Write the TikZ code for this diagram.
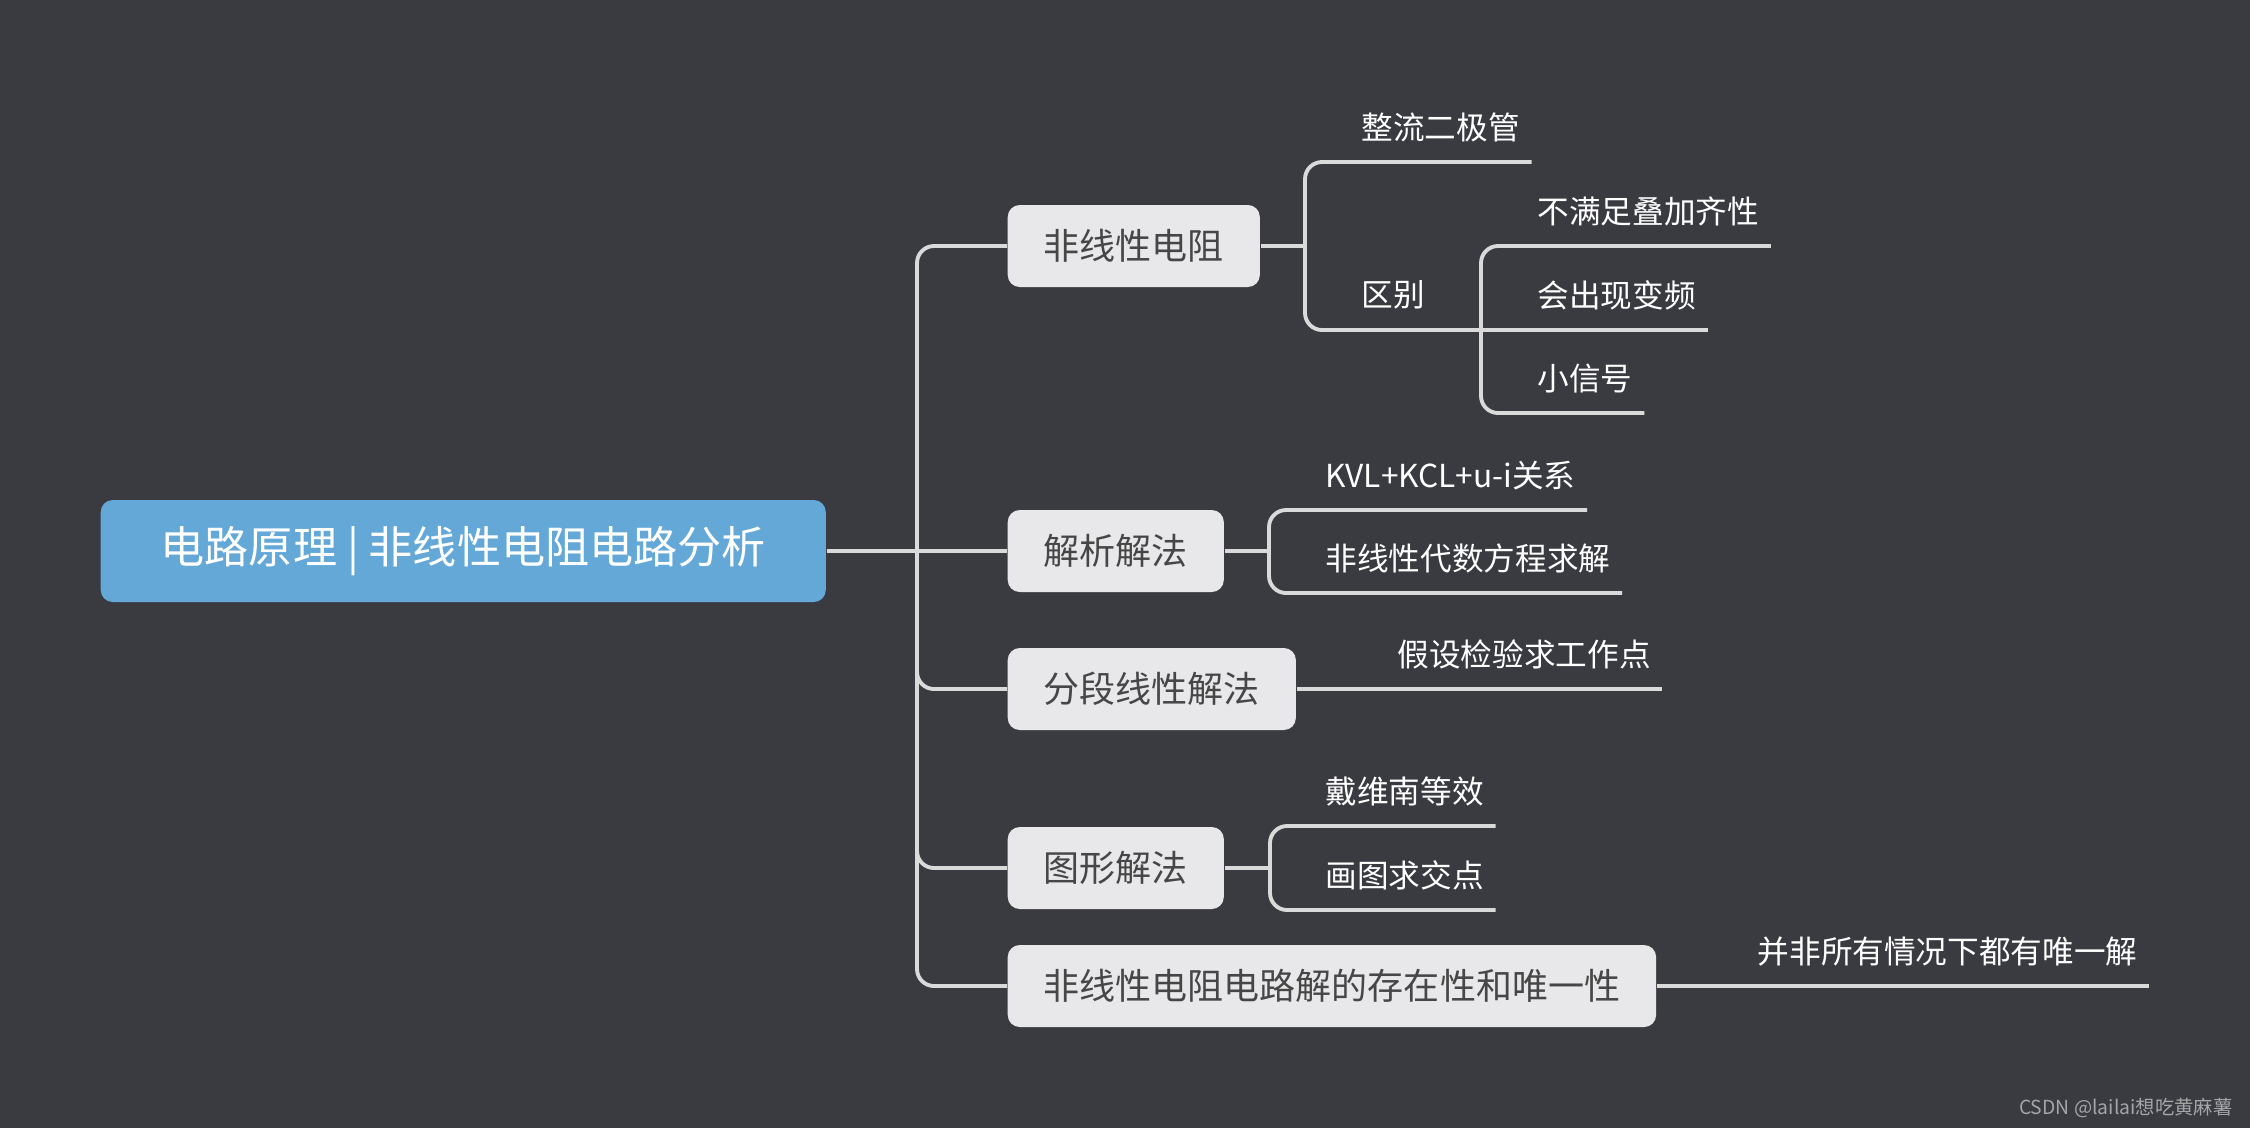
\documentclass[tikz,border=0pt]{standalone}
\usepackage{fontspec}
\usepackage{xcolor}
\newfontfamily\cjk{Noto Sans CJK SC}
\usetikzlibrary{positioning, calc}

\definecolor{bgdark}{RGB}{58,59,65}
\definecolor{rootblue}{RGB}{100,168,216}
\definecolor{boxgray}{RGB}{232,232,234}
\definecolor{linegray}{RGB}{218,218,218}
\definecolor{boxtext}{RGB}{70,70,70}
\definecolor{marktext}{RGB}{165,165,168}

\begin{document}
\begin{tikzpicture}[
    font=\cjk,
    rootbox/.style={fill=rootblue, rounded corners=0.12cm, text=white, font=\cjk\fontsize{12.55}{15}\selectfont, inner xsep=0.6cm, minimum height=1.02cm, anchor=west},
    topic/.style={fill=boxgray, rounded corners=0.12cm, text=boxtext, font=\cjk\fontsize{10.25}{12}\selectfont, inner xsep=0.36cm, minimum height=0.82cm, anchor=west},
    leaf/.style={text=white, font=\cjk\fontsize{9}{11}\selectfont, inner xsep=0.11cm, inner ysep=0pt, minimum height=0.68cm, anchor=south west},
    branch/.style={draw=linegray, line width=1.1pt, rounded corners=0.17cm}
]
    % Background
    \fill[bgdark] (0,0) rectangle (22.5,-11.28);

    % Root and main topics
    \node[rootbox] (root) at (1.00,-5.51) {电路原理 | 非线性电阻电路分析};
    \node[topic] (nl) at (10.07,-2.46) {非线性电阻};
    \node[topic] (jx) at (10.07,-5.51) {解析解法};
    \node[topic] (fd) at (10.07,-6.89) {分段线性解法};
    \node[topic] (tx) at (10.07,-8.68) {图形解法};
    \node[topic] (cz) at (10.07,-9.86) {非线性电阻电路解的存在性和唯一性};
    \coordinate (trunk) at (9.17,-5.51);

    % Subtopics
    \coordinate (nl-r) at (13.05,-2.46);
    \node[leaf] (zl) at (13.50,-1.62) {整流二极管};
    \node[leaf] (qb) at (13.50,-3.30) {区别};
    \coordinate (qb-r) at (14.81,-3.30);
    \node[leaf] (bm) at (15.26,-2.46) {不满足叠加齐性};
    \node[leaf] (bp) at (15.26,-3.30) {会出现变频};
    \node[leaf] (xx) at (15.26,-4.13) {小信号};

    \coordinate (jx-r) at (12.69,-5.51);
    \node[leaf] (kvl) at (13.14,-5.10) {KVL+KCL+u-i关系};
    \node[leaf] (fx) at (13.14,-5.93) {非线性代数方程求解};

    \node[leaf] (jy) at (13.86,-6.89) {假设检验求工作点};

    \coordinate (tx-r) at (12.70,-8.68);
    \node[leaf] (dw) at (13.14,-8.26) {戴维南等效};
    \node[leaf] (ht) at (13.14,-9.10) {画图求交点};

    \node[leaf] (wy) at (17.46,-9.86) {并非所有情况下都有唯一解};

    % Branches
    \draw[branch] (root.east) -- (jx.west);
    \draw[branch] (nl.west) -| (trunk) |- (cz.west);
    \draw[branch] (trunk) |- (fd.west);
    \draw[branch] (trunk) |- (tx.west);

    \draw[branch] (nl.east) -- (nl-r);
    \draw[branch] (zl.south east) -| (nl-r) |- (qb-r);
    \draw[branch] (bm.south east) -| (qb-r) |- (xx.south east);
    \draw[branch] (qb-r) -- (bp.south east);

    \draw[branch] (jx.east) -- (jx-r);
    \draw[branch] (kvl.south east) -| (jx-r) |- (fx.south east);

    \draw[branch] (fd.east) -- (jy.south east);

    \draw[branch] (tx.east) -- (tx-r);
    \draw[branch] (dw.south east) -| (tx-r) |- (ht.south east);

    \draw[branch] (cz.east) -- (wy.south east);

    % Watermark
    \node[text=marktext, font=\cjk\fontsize{5.5}{7}\selectfont, anchor=east, inner sep=0pt] (mark) at (22.33,-11.08) {CSDN @lailai想吃黄麻薯};
\end{tikzpicture}
\end{document}
